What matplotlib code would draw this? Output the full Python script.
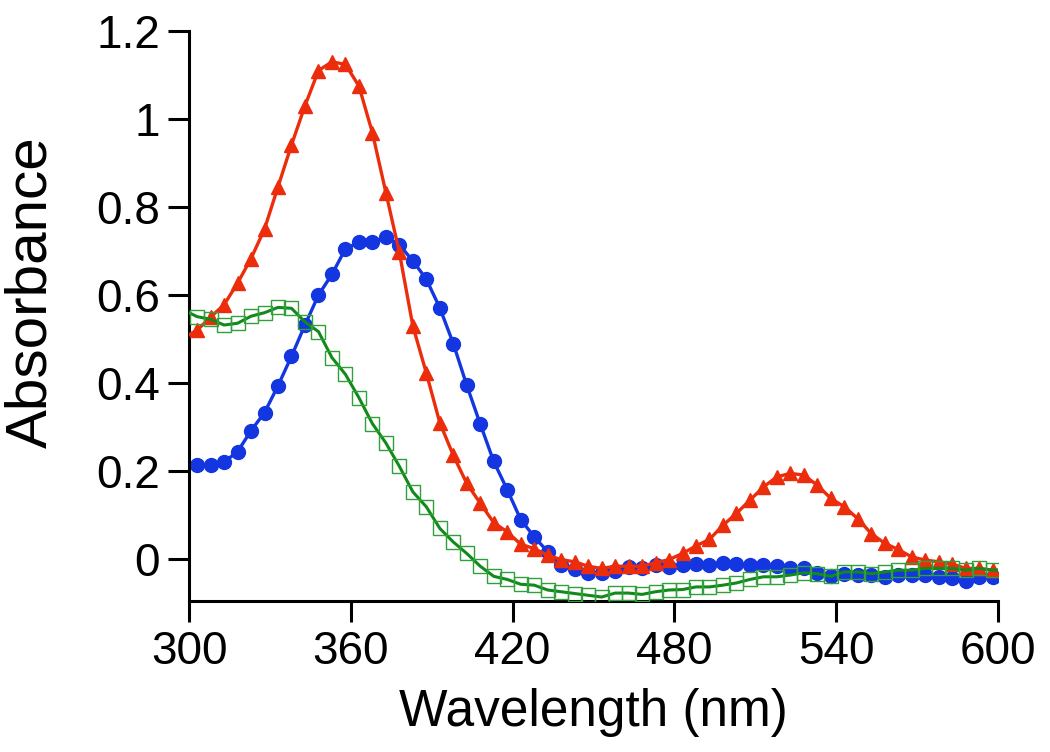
import numpy as np
import matplotlib
matplotlib.use("Agg")
import matplotlib.pyplot as plt

plt.rcParams['font.family'] = ['Liberation Sans', 'DejaVu Sans']

# wavelength grid (nm): line ends at the axis limits, markers every 5 nm from 303
wl = [300] + list(range(303, 599, 5)) + [600]

red = [0.510,
       0.520, 0.550, 0.578, 0.627, 0.683, 0.750, 0.846, 0.941, 1.030, 1.110,
       1.130, 1.124, 1.075, 0.969, 0.833, 0.697, 0.530, 0.423, 0.310, 0.236,
       0.172, 0.127, 0.083, 0.062, 0.034, 0.024, 0.009, -0.001, -0.006, -0.016,
       -0.021, -0.016, -0.016, -0.016, -0.008, -0.001, 0.013, 0.030, 0.045, 0.077,
       0.104, 0.134, 0.164, 0.187, 0.195, 0.191, 0.168, 0.138, 0.119, 0.092,
       0.058, 0.036, 0.022, 0.005, -0.002, -0.006, -0.011, -0.021, -0.021, -0.025,
       -0.025]

blue = [0.212,
        0.215, 0.215, 0.221, 0.244, 0.292, 0.333, 0.394, 0.461, 0.532, 0.600,
        0.647, 0.705, 0.720, 0.720, 0.732, 0.714, 0.678, 0.636, 0.571, 0.490,
        0.395, 0.307, 0.222, 0.158, 0.090, 0.051, 0.017, -0.014, -0.023, -0.031,
        -0.031, -0.027, -0.017, -0.021, -0.014, -0.017, -0.014, -0.011, -0.014, -0.008,
        -0.011, -0.014, -0.014, -0.016, -0.021, -0.021, -0.031, -0.039, -0.033, -0.036,
        -0.036, -0.040, -0.036, -0.036, -0.036, -0.040, -0.042, -0.049, -0.040, -0.040,
        -0.040]

green = [0.560,
         0.551, 0.545, 0.532, 0.536, 0.552, 0.560, 0.572, 0.570, 0.539, 0.517,
         0.458, 0.420, 0.367, 0.308, 0.264, 0.211, 0.153, 0.119, 0.070, 0.039,
         0.013, -0.016, -0.039, -0.046, -0.057, -0.059, -0.070, -0.074, -0.078, -0.082,
         -0.086, -0.077, -0.077, -0.080, -0.074, -0.070, -0.069, -0.063, -0.063, -0.059,
         -0.054, -0.046, -0.040, -0.040, -0.036, -0.031, -0.033, -0.039, -0.029, -0.029,
         -0.033, -0.029, -0.025, -0.025, -0.021, -0.021, -0.021, -0.025, -0.021, -0.025,
         -0.025]

xticks = [300, 360, 420, 480, 540, 600]
yticks = [0, 0.2, 0.4, 0.6, 0.8, 1.0, 1.2]
yticklabels = ["0", "0.2", "0.4", "0.6", "0.8", "1", "1.2"]

fig = plt.figure(figsize=(10.5, 7.52), dpi=100)
ax = fig.add_axes([0.18, 0.2008, 0.7705, 0.758])

marks = slice(1, -1)
ax.plot(wl, blue, color='#1336e0', lw=2.4, marker='o', ms=10,
        markevery=marks, mec='#1336e0', mfc='#1336e0', zorder=2)
ax.plot(wl, red, color='#eb2d0c', lw=2.4, marker='^', ms=9.5,
        markevery=marks, mec='#eb2d0c', mfc='#eb2d0c', zorder=3)
ax.plot(wl, green, color='#118a1a', lw=2.2, marker='s', ms=10,
        markevery=marks, mec='#2fa03a', mfc='none', mew=1.0, zorder=4)

ax.set_xlim(300, 600)
ax.set_ylim(-0.095, 1.2)
ax.set_xticks(xticks)
ax.set_yticks(yticks)
ax.set_yticklabels(yticklabels)

for s in ['top', 'right']:
    ax.spines[s].set_visible(False)
for s in ['left', 'bottom']:
    ax.spines[s].set_linewidth(2.2)
ax.tick_params(direction='out', length=15, width=2.2, labelsize=33, pad=6)

ax.set_xlabel('Wavelength (nm)', fontsize=37, labelpad=10)
ax.set_ylabel('Absorbance', fontsize=42, labelpad=27)
ax.yaxis.label.set_y(0.542)

fig.savefig('out.png', dpi=100)
